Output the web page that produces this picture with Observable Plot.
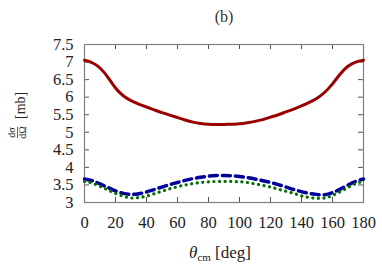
<!DOCTYPE html>
<html>
<head>
<meta charset="utf-8">
<script src="https://cdn.jsdelivr.net/npm/d3@7"></script>
<script src="https://cdn.jsdelivr.net/npm/@observablehq/plot@0.6"></script>
<style>
  html, body { margin: 0; padding: 0; background: white; }
  #chart svg, #chart svg text { font-family: "Liberation Serif", "Times New Roman", serif !important; }
</style>
</head>
<body>
<div id="chart"></div>
<script>
const theta = [0,5,10,15,20,25,30,35,40,45,50,55,60,65,70,75,80,85,90,95,100,105,110,115,120,125,130,135,140,145,150,155,160,165,170,175,180];
const sigmaRed = [7.05,6.98,6.83,6.57,6.26,6.04,5.90,5.80,5.72,5.64,5.56,5.49,5.42,5.35,5.29,5.25,5.23,5.22,5.22,5.23,5.24,5.27,5.31,5.36,5.43,5.50,5.58,5.66,5.75,5.85,5.97,6.14,6.38,6.66,6.88,7.00,7.05];
const sigmaBlue = [3.67,3.62,3.53,3.43,3.33,3.26,3.23,3.25,3.30,3.37,3.44,3.51,3.57,3.63,3.68,3.72,3.75,3.77,3.77,3.76,3.74,3.71,3.67,3.62,3.57,3.51,3.44,3.37,3.31,3.26,3.23,3.22,3.28,3.38,3.50,3.60,3.67];
const sigmaGreen = [3.60,3.55,3.46,3.36,3.26,3.18,3.13,3.14,3.18,3.25,3.32,3.39,3.45,3.50,3.54,3.57,3.59,3.60,3.60,3.60,3.59,3.57,3.53,3.49,3.44,3.38,3.32,3.26,3.19,3.14,3.12,3.13,3.20,3.31,3.43,3.54,3.61];
const xTicks = [0,20,40,60,80,100,120,140,160,180];
const yTicks = [3,3.5,4,4.5,5,5.5,6,6.5,7,7.5];
const yTickLabels = ["3","3.5","4","4.5","5","5.5","6","6.5","7","7.5"];
const panelTitle = "(b)";

const red = theta.map((t, i) => ({theta: t, sigma: sigmaRed[i]}));
const blue = theta.map((t, i) => ({theta: t, sigma: sigmaBlue[i]}));
const green = theta.map((t, i) => ({theta: t, sigma: sigmaGreen[i]}));

const W = 382, H = 265, ML = 84, MR = 19, MT = 44, MB = 63;
const FW = W - ML - MR, FH = H - MT - MB, TL = 5;
const font = "Liberation Serif";

const chart = Plot.plot({
  width: W, height: H,
  marginLeft: ML, marginRight: MR, marginTop: MT, marginBottom: MB,
  style: {fontFamily: font, fontSize: "16px", background: "white", color: "#222"},
  x: {domain: [0, 180]},
  y: {domain: [3, 7.5]},
  marks: [
    Plot.ruleX(xTicks, {x: d => d, insetTop: FH - TL, stroke: "#555"}),
    Plot.ruleX(xTicks, {x: d => d, insetBottom: FH - TL, stroke: "#555"}),
    Plot.ruleY(yTicks, {y: d => d, insetRight: FW - TL, stroke: "#555"}),
    Plot.ruleY(yTicks, {y: d => d, insetLeft: FW - TL, stroke: "#555"}),
    Plot.frame({stroke: "#808080", strokeWidth: 1.2}),
    Plot.axisX(xTicks, {anchor: "bottom", tickSize: 0, tickPadding: 14, label: null, fontSize: 16.5, fill: "#222"}),
    Plot.axisY(yTicks, {anchor: "left", tickSize: 0, tickPadding: 11, label: null, fontSize: 16.5, fill: "#222",
      tickFormat: d => yTickLabels[yTicks.indexOf(d)]}),
    Plot.line(red, {x: "theta", y: "sigma", stroke: "#990000", strokeWidth: 3, curve: "natural"}),
    Plot.line(blue, {x: "theta", y: "sigma", stroke: "#00009a", strokeWidth: 3.5, curve: "natural", strokeDasharray: "8,5"}),
    Plot.line(green, {x: "theta", y: "sigma", stroke: "#006e00", strokeWidth: 3.2, curve: "natural", strokeDasharray: "0.1,5.5", strokeLinecap: "round"}),
    Plot.text([panelTitle], {text: d => d, frameAnchor: "top", lineAnchor: "middle", dy: -28, fontSize: 16, fill: "#333"})
  ]
});

const svg = d3.select(chart);
// x-axis label
const xl = svg.append("text")
  .attr("x", 220).attr("y", 258)
  .attr("text-anchor", "middle")
  .attr("font-family", font).attr("font-size", 17).attr("fill", "#222");
xl.append("tspan").attr("font-style", "italic").text("θ");
xl.append("tspan").attr("font-size", 11).attr("dy", 3).text("cm");
xl.append("tspan").attr("dy", -3).text(" [deg]");

// y-axis label (rotated fraction)
const g = svg.append("g").attr("transform", "translate(27,116) rotate(-90)")
  .attr("font-family", font).attr("fill", "#222");
g.append("text").attr("x", -16.5).attr("y", -12).attr("text-anchor", "middle").attr("font-size", 10).text("dσ");
g.append("line").attr("x1", -22).attr("x2", -11).attr("y1", -9.5).attr("y2", -9.5).attr("stroke", "#222").attr("stroke-width", 0.7);
g.append("text").attr("x", -16.5).attr("y", -1.5).attr("text-anchor", "middle").attr("font-size", 10).text("dΩ");
g.append("text").attr("x", -3).attr("y", -2).attr("text-anchor", "start").attr("font-size", 14).text("[mb]");

document.getElementById("chart").appendChild(chart);
</script>
</body>
</html>
